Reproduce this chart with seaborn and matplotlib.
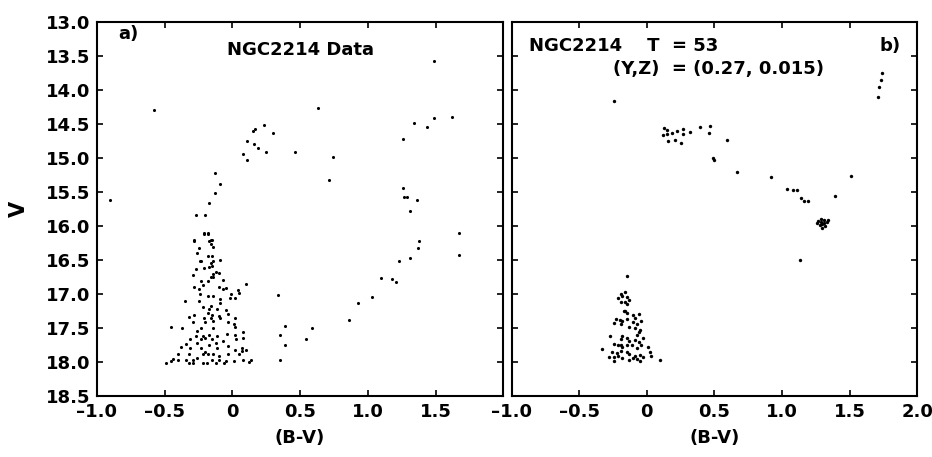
import matplotlib
matplotlib.use("Agg")
import matplotlib.pyplot as plt
import seaborn as sns
from matplotlib.ticker import FuncFormatter

# observed CMD of NGC2214, panel a)
data_bv = [
    -0.58, -0.90, 0.23, 0.17, 0.30, 0.15, 0.11, 0.16, 0.19, 0.25, 0.08, 0.11, 0.46,
    -0.13, -0.09, -0.13, -0.17, -0.27, -0.20, -0.21, -0.18, -0.28, -0.16,
    0.63, 0.74, 0.71, 1.34, 1.44, 1.49, 1.62, 1.26, 1.26, 1.27, 1.29, 1.36, 1.31,
    1.67, 1.38, 1.37, 1.67, 1.23, 1.31, 1.10, 1.18, 1.21, 1.03, 0.93, 0.86,
    0.34, 0.39, 0.35, 0.59, 0.54, 0.39, 0.35, 0.10, 0.14, 1.49,
    -0.21, -0.18, -0.28, -0.17, -0.15, -0.25, -0.16, -0.14, -0.26, -0.18, -0.15,
    -0.24, -0.23, -0.16, -0.14, -0.09, -0.27, -0.21, -0.17, -0.15, -0.29, -0.14,
    -0.12, -0.14, -0.16, -0.10, -0.23, -0.07, -0.18, -0.28, -0.22, -0.10, -0.25,
    -0.07, -0.05, 0.04, -0.01, 0.05, 0.02, -0.02, -0.24, -0.18, -0.14, -0.09,
    -0.35, -0.25, -0.09, -0.22, -0.16, -0.17, -0.11, -0.05, -0.18, -0.28, -0.15,
    -0.10, -0.03, 0.02, -0.32, -0.21, -0.16, -0.09, -0.29, -0.20, -0.14, -0.03,
    0.01, -0.45, -0.37, -0.23, -0.14, 0.02, -0.26, -0.22, -0.17, -0.11, -0.04,
    0.02, 0.08, -0.31, -0.27, -0.23, -0.20, -0.15, -0.07, 0.08, 0.03, -0.34,
    -0.26, -0.17, -0.12, -0.03, -0.38, -0.31, -0.23, -0.20, -0.11, 0.02, 0.07,
    0.10, -0.40, -0.32, -0.22, -0.18, -0.14, -0.10, -0.03, 0.05, 0.07, -0.44,
    -0.40, -0.34, -0.29, -0.26, -0.15, -0.10, -0.05, 0.01, 0.08, -0.49, -0.45,
    -0.32, -0.29, -0.22, -0.19, -0.12, -0.06, 0.12,
]
data_v = [
    14.30, 15.62, 14.52, 14.57, 14.64, 14.61, 14.75, 14.79, 14.85, 14.92, 14.94, 15.03, 14.92,
    15.22, 15.38, 15.51, 15.66, 15.84, 15.84, 16.12, 16.12, 16.21, 16.21,
    14.26, 14.98, 15.32, 14.49, 14.54, 14.42, 14.40, 14.72, 15.44, 15.57, 15.57, 15.62, 15.78,
    16.11, 16.22, 16.33, 16.43, 16.51, 16.48, 16.77, 16.78, 16.83, 17.05, 17.14, 17.39,
    17.02, 17.47, 17.60, 17.50, 17.66, 17.75, 17.97, 16.85, 17.98, 13.58,
    16.11, 16.11, 16.22, 16.22, 16.21, 16.32, 16.27, 16.31, 16.40, 16.45, 16.44,
    16.51, 16.52, 16.54, 16.51, 16.50, 16.63, 16.62, 16.61, 16.59, 16.72, 16.71,
    16.68, 16.75, 16.76, 16.70, 16.81, 16.80, 16.81, 16.90, 16.87, 16.90, 16.93,
    16.93, 16.92, 16.95, 17.00, 16.99, 17.06, 17.06, 17.00, 17.03, 17.03, 17.08,
    17.10, 17.11, 17.13, 17.19, 17.18, 17.23, 17.23, 17.24, 17.28, 17.31, 17.31,
    17.32, 17.29, 17.35, 17.34, 17.36, 17.36, 17.36, 17.41, 17.41, 17.40, 17.41,
    17.45, 17.49, 17.51, 17.50, 17.51, 17.49, 17.55, 17.62, 17.60, 17.62, 17.59,
    17.61, 17.56, 17.66, 17.62, 17.67, 17.65, 17.67, 17.69, 17.65, 17.67, 17.74,
    17.73, 17.75, 17.72, 17.77, 17.78, 17.80, 17.79, 17.85, 17.80, 17.82, 17.80,
    17.83, 17.89, 17.88, 17.88, 17.89, 17.89, 17.92, 17.89, 17.88, 17.84, 17.96,
    17.98, 17.98, 17.97, 17.95, 17.98, 17.97, 17.99, 17.99, 17.98, 18.02, 17.99,
    18.02, 18.02, 18.02, 18.02, 18.02, 18.02, 18.00,
]

# synthetic CMD, panel b)
model_bv = [
    -0.24, 1.74, 1.73, 1.72, 1.71,
    0.13, 0.15, 0.12, 0.15, 0.19, 0.22, 0.27, 0.27, 0.32, 0.39, 0.47, 0.46,
    0.16, 0.21, 0.25, 0.59, 0.49, 0.50, 0.67,
    0.92, 1.51, 1.04, 1.08, 1.11, 1.14, 1.16, 1.19, 1.39, 1.13,
    1.27, 1.29, 1.31, 1.33, 1.30, 1.28, 1.32, 1.30, 1.26, 1.34, 1.29, 1.31,
    -0.15, -0.16, -0.19, -0.18, -0.21, -0.15, -0.13, -0.19, -0.16, -0.15,
    -0.17, -0.16, -0.15, -0.10, -0.06, -0.09, -0.23, -0.20, -0.18, -0.15,
    -0.24, -0.19, -0.10, -0.07, -0.04, -0.13, -0.09, -0.05, -0.07, -0.06,
    -0.27, -0.19, -0.18, -0.15, -0.13, -0.09, -0.06, -0.03, -0.24, -0.21,
    -0.19, -0.18, -0.15, -0.11, -0.07, -0.04, 0.01, -0.33, -0.26, -0.22,
    -0.19, -0.15, -0.13, -0.09, -0.05, 0.02, -0.28, -0.24, -0.21, -0.18,
    -0.10, -0.07, -0.03, 0.03, 0.10, -0.24, -0.13, -0.05,
]
model_v = [
    14.16, 13.75, 13.85, 13.95, 14.10,
    14.56, 14.59, 14.66, 14.65, 14.63, 14.60, 14.57, 14.65, 14.62, 14.54, 14.53, 14.63,
    14.75, 14.74, 14.78, 14.74, 15.00, 15.03, 15.21,
    15.28, 15.26, 15.46, 15.47, 15.48, 15.59, 15.63, 15.63, 15.56, 16.50,
    15.93, 15.90, 15.92, 15.95, 15.97, 15.99, 16.00, 16.03, 15.96, 15.91, 15.95, 15.96,
    16.74, 16.97, 17.00, 17.03, 17.06, 17.04, 17.09, 17.12, 17.12, 17.15,
    17.26, 17.25, 17.28, 17.31, 17.29, 17.35, 17.37, 17.38, 17.40, 17.37,
    17.43, 17.44, 17.41, 17.44, 17.40, 17.49, 17.51, 17.53, 17.60, 17.56,
    17.62, 17.66, 17.62, 17.65, 17.69, 17.68, 17.71, 17.65, 17.74, 17.76,
    17.75, 17.78, 17.76, 17.75, 17.79, 17.76, 17.78, 17.81, 17.85, 17.87,
    17.84, 17.85, 17.88, 17.91, 17.90, 17.85, 17.93, 17.93, 17.91, 17.94,
    17.94, 17.96, 17.93, 17.91, 17.97, 17.99, 17.97, 17.99,
]

y_ticks = [13.0, 13.5, 14.0, 14.5, 15.0, 15.5, 16.0, 16.5, 17.0, 17.5, 18.0, 18.5]
x_ticks_a = [-1.0, -0.5, 0.0, 0.5, 1.0, 1.5]
x_ticks_b = [-1.0, -0.5, 0.0, 0.5, 1.0, 1.5, 2.0]

sns.set_style("ticks")
plt.rcParams["font.family"] = ["DejaVu Sans"]
plt.rcParams["font.weight"] = "bold"
plt.rcParams["axes.labelweight"] = "bold"
for key in ["text.color", "axes.labelcolor", "xtick.color", "ytick.color", "axes.edgecolor"]:
    plt.rcParams[key] = "black"

FS = 13


def bv_fmt(v, pos):
    return "0" if abs(v) < 1e-9 else f"{v:.1f}".replace("-", "\u2013")


def style_axes(ax, xticks):
    ax.set_xlim(-1.0, 2.0)
    ax.set_ylim(18.5, 13.0)
    ax.set_xticks(xticks)
    ax.set_yticks(y_ticks)
    ax.xaxis.set_major_formatter(FuncFormatter(bv_fmt))
    ax.yaxis.set_major_formatter(FuncFormatter(lambda v, p: f"{v:.1f}"))
    ax.tick_params(direction="in", length=4, width=1.2, top=True, right=True,
                   labelsize=FS, colors="black", pad=5)
    for s in ax.spines.values():
        s.set_linewidth(1.5)
        s.set_color("black")
    ax.set_xlabel("(B-V)", fontsize=FS, fontweight="bold", labelpad=6, color="black")


fig = plt.figure(figsize=(9.32, 4.57), dpi=100)
ax_a = fig.add_axes([0.104, 0.134, 0.436, 0.818])
ax_b = fig.add_axes([0.549, 0.134, 0.435, 0.818])

sns.scatterplot(x=data_bv, y=data_v, ax=ax_a, color="black", s=5, linewidth=0, marker="o")
sns.scatterplot(x=model_bv, y=model_v, ax=ax_b, color="black", s=6, linewidth=0, marker="o")

style_axes(ax_a, x_ticks_a)
style_axes(ax_b, x_ticks_b)
ax_b.tick_params(labelleft=False)

ax_a.set_ylabel("V", fontsize=FS + 2, fontweight="bold", labelpad=12, color="black")
ax_b.set_ylabel("")

ax_a.text(-0.77, 13.18, "a)", fontsize=FS, fontweight="bold", ha="center", va="center", color="black")
ax_a.text(0.50, 13.41, "NGC2214 Data", fontsize=FS, fontweight="bold", ha="center", va="center", color="black")

ax_b.text(-0.87, 13.35, "NGC2214    T  = 53", fontsize=FS, fontweight="bold", ha="left", va="center", color="black")
ax_b.text(-0.25, 13.69, "(Y,Z)  = (0.27, 0.015)", fontsize=FS, fontweight="bold", ha="left", va="center", color="black")
ax_b.text(1.80, 13.35, "b)", fontsize=FS, fontweight="bold", ha="center", va="center", color="black")

fig.savefig("out.png", dpi=100, facecolor="white")
